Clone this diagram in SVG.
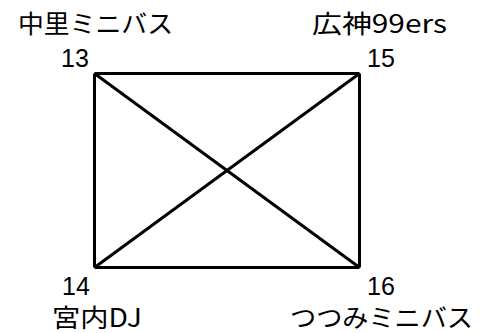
<svg xmlns="http://www.w3.org/2000/svg" width="482" height="333" viewBox="0 0 482 333">
<style>
.lbl{font-family:"Noto Sans CJK JP","Liberation Sans",sans-serif;font-size:25px;fill:#000}
.num{font-family:"Liberation Sans","Noto Sans CJK JP",sans-serif;font-size:25px;fill:#000}
.edge{stroke:#000;stroke-width:3;fill:none}
</style>
<rect width="482" height="333" fill="#fff"/>
<g id="connectors">
<line class="edge" x1="94.5" y1="73.5" x2="359.5" y2="73.5"/>
<line class="edge" x1="94.5" y1="267.5" x2="359.5" y2="267.5"/>
<line class="edge" x1="94.5" y1="73.5" x2="94.5" y2="267.5"/>
<line class="edge" x1="359.5" y1="73.5" x2="359.5" y2="267.5"/>
<line class="edge" x1="94.5" y1="73.5" x2="359.5" y2="267.5"/>
<line class="edge" x1="359.5" y1="73.5" x2="94.5" y2="267.5"/>
</g>
<g id="n13">
<text class="lbl" x="18" y="33" textLength="155" lengthAdjust="spacingAndGlyphs">中里ミニバス</text>
<text class="num" x="61" y="67">13</text>
</g>
<g id="n15">
<text class="lbl" x="312" y="33" textLength="135" lengthAdjust="spacingAndGlyphs">広神99ers</text>
<text class="num" x="367" y="67">15</text>
</g>
<g id="n14">
<text class="num" x="62" y="295">14</text>
<text class="lbl" x="52" y="327" textLength="90" lengthAdjust="spacingAndGlyphs">宮内DJ</text>
</g>
<g id="n16">
<text class="num" x="367" y="295">16</text>
<text class="lbl" x="290" y="327" textLength="183" lengthAdjust="spacingAndGlyphs">つつみミニバス</text>
</g>
</svg>
